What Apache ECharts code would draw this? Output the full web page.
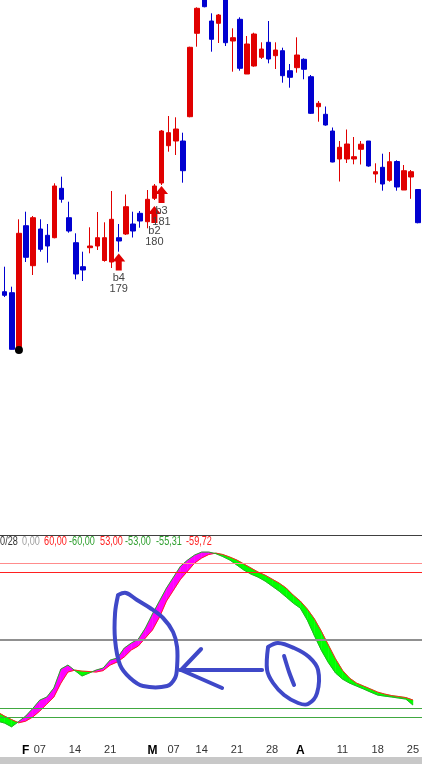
<!DOCTYPE html>
<html><head><meta charset="utf-8">
<script src="https://cdn.jsdelivr.net/npm/echarts@6/dist/echarts.min.js"></script>
<style>html,body{margin:0;padding:0;background:#fff;overflow:hidden;width:422px;height:764px;position:relative}#c{position:absolute;left:-6.07px;top:0;width:428.07px;height:764px}</style>
</head><body><div id="c"></div>
<script>
// ---- data ----
const dates = ['01-25','01-26','01-27','01-28','02-03','02-04','02-07','02-08','02-09','02-10','02-11','02-14','02-15','02-16','02-17','02-18','02-21','02-22','02-23','02-24','02-25','02-28','03-02','03-03','03-04','03-07','03-08','03-10','03-11','03-14','03-15','03-16','03-17','03-18','03-21','03-22','03-23','03-24','03-25','03-28','03-29','03-30','03-31','04-01','04-04','04-05','04-06','04-07','04-08','04-11','04-12','04-13','04-14','04-15','04-18','04-19','04-20','04-21','04-22','04-25'];
const openP  = [288,238.3,237.3,180,304.3,264.3,301,294.7,292.3,341.7,312.3,287.3,263.3,282.3,284,269.5,268,292.3,296,306,316.7,308.3,331.7,347,384.3,389,389,413.3,496.7,540,509,506.7,535,489,510.7,456,464,472.7,487.7,474.3,479.3,459.3,462.3,470.7,453.3,423.3,415.7,399,371,371,371,380.7,389,356,362.7,349.7,368.5,340,353,340.5];
const closeP = [278,234.7,180.7,296.7,272.7,312.3,280.7,284,344,330.7,299,256,260,284,292.3,292.3,310.7,289,323.3,299,309,330.7,344,399,397.3,401,359.3,482.7,521.7,523.3,490.7,515,487.3,492.3,461.7,486,496,481,471,480,454.3,452.7,475,460.7,416.7,426.7,405,368,382.7,386,373.3,385.8,364,358.3,346,368.3,343,359.3,358.3,307.3];
const lowP   = [272,233,180.5,180,268,255,278.3,267.3,291.7,327.3,297.3,250.7,249,276.7,280,268.3,262,278.3,295,292.5,302.3,301.7,330,345,378.3,375,347.3,412.7,483.3,522.7,478.3,487,484,458.3,459.3,456,463.3,471,466.7,461,447.3,442.3,457.3,450.7,416,408.3,404.3,367.7,348.5,367,365.7,365.5,363.3,347.3,339.3,348.3,339.3,340,331.2,306.7];
const highP  = [292,263.3,243.3,310.7,318.3,314,310.7,306,346.7,353.3,328.3,296.7,278.3,302.7,318,307.7,339,306,335.5,318.3,319,340,346,400,414,412.7,397.3,483.3,522.7,545,516.7,516,540,501.7,512.7,494,497.3,487.7,509,487.7,482.3,466,492.7,471.7,455,429,423.5,402.5,389,400.5,393,389,389,366.7,376.3,378,369.7,365,360,341];
const fastK = [-62.9,-64.4,-67.3,-63.2,-59.0,-53.1,-46.6,-44.2,-37.2,-22.5,-19.4,-23.7,-27.9,-25.6,-23.3,-21.7,-15.5,-14.0,-6.2,-2.3,0.8,9.3,20.2,30.3,40.4,48.9,57.4,62.1,66.0,68.3,68.3,67.1,64.8,62.1,58.2,54.3,51.2,48.9,45.8,41.9,38.0,33.4,28.7,24.8,15.5,3.5,-8.0,-17.5,-25.5,-30.3,-33.4,-35.7,-38.0,-40.4,-42.7,-43.5,-44.2,-45.0,-45.8,-50.4];
const slowD = [-55.9,-59.0,-61.7,-64.2,-62.9,-59.7,-55.1,-49.7,-44.2,-33.4,-24.8,-23.3,-24.1,-24.4,-24.8,-23.7,-19.4,-17.0,-13.1,-7.7,-4.6,1.6,7.8,17.8,30.3,38.8,47.3,53.5,59.8,63.7,66.4,67.5,66.4,64.4,62.1,59.0,55.9,52.8,50.4,47.3,44.2,40.4,34.9,30.3,24.1,16.5,6.8,-3.9,-14.5,-23.5,-29.5,-33.4,-35.7,-38.0,-40.4,-41.9,-43.1,-43.8,-44.6,-46.5];
const levels = [60, 53, 0, -53, -60];
const tickDates = ['02-03','02-07','02-14','02-21','02-28','03-02','03-07','03-14','03-21','03-28','04-01','04-04','04-11','04-18','04-25'];
const tickTexts = ['F','07','14','21','','M','07','14','21','28','A','','11','18','25'];
const sigDates = ['02-22','03-02','03-03'];
const sigNames = ['b4','b2','b3'];
const sigNums = ['179','180','181'];
const sigLevels = [276.5, 324, 344];
const lowMarkDate = '01-28';
const headerTexts = ['0/28','0,00','60,00','-60,00','53,00','-53,00','-55,31','-59,72'];

// ---- styles ----
const OX = 6.07; // the chart canvas starts 6.07px left of the window
const RED = '#e00000', BLUE = '#0000d0';
const levelColors = ['#ff8c8c', '#ff2020', '#909090', '#40a840', '#40a840'];
const levelWidths = [1, 1, 2, 1, 1];
const headerColors = ['#333', '#a0a0a0', '#ff2020', '#30a030', '#ff2020', '#30a030', '#30a030', '#ff2020'];
const headerX = [0, 22, 44, 69, 100, 125, 156, 186];
const FONT = "'Liberation Sans',Arial,sans-serif";
const ANN = '#3f48c8';

const tickMap = new Map(tickDates.map((d, i) => [d, tickTexts[i]]));
const chart = echarts.init(document.getElementById('c'), null, {renderer: 'canvas'});

function bandItem(params, api) {
  const i = api.value(0);
  const a0 = api.coord([i - 1, fastK[i - 1]]), a1 = api.coord([i, fastK[i]]);
  const b0 = api.coord([i - 1, slowD[i - 1]]), b1 = api.coord([i, slowD[i]]);
  const d0 = fastK[i - 1] - slowD[i - 1], d1 = fastK[i] - slowD[i];
  const col = d => d >= 0 ? '#ff00ff' : '#00ff00';
  const poly = (pts, c) => ({type: 'polygon', shape: {points: pts}, style: {fill: c, stroke: c, lineWidth: 0.5}});
  if (d0 * d1 < 0) {
    const t = d0 / (d0 - d1);
    const p = [a0[0] + (a1[0] - a0[0]) * t, a0[1] + (a1[1] - a0[1]) * t];
    return {type: 'group', children: [poly([a0, p, b0], col(d0)), poly([p, a1, b1], col(d1))]};
  }
  return poly([a0, a1, b1, b0], col(d0 + d1));
}
function levelItem(params, api) {
  const cs = params.coordSys;
  const k = api.value(2);
  const y = api.coord([0, api.value(1)])[1];
  const yy = levelWidths[k] % 2 ? Math.round(y) + 0.5 : Math.round(y);
  return {type: 'line', shape: {x1: 0, y1: yy, x2: cs.x + cs.width + 20, y2: yy}, style: {stroke: levelColors[k], lineWidth: levelWidths[k]}};
}

const graphics = [
  {type: 'line', shape: {x1: 0, y1: 535.5, x2: 440, y2: 535.5}, style: {stroke: '#404040', lineWidth: 1}, silent: true},
  {type: 'rect', shape: {x: 0, y: 757, width: 440, height: 7}, style: {fill: '#c8c8c8'}, silent: true}
];
headerTexts.forEach((t, k) => graphics.push({type: 'text', x: headerX[k] + OX, y: 541, scaleX: 0.7, style: {text: t, fill: headerColors[k], font: '13px ' + FONT, textVerticalAlign: 'middle'}, silent: true}));
// hand-drawn annotations (pixel overlay)
const annStyle = {stroke: ANN, lineWidth: 4, lineCap: 'round', lineJoin: 'round', fill: null};
const sh = pts => pts.map(p => [p[0] + OX, p[1]]);
graphics.push({type: 'polyline', shape: {smooth: 0.35, points: sh([[118,595],[126,593],[137,600],[150,608],[163,618],[173,632],[177,647],[177,667],[175,678],[167,686],[143,686],[130,678],[120,665],[115,640],[115,613],[118,595]])}, style: annStyle, silent: true, z: 100});
graphics.push({type: 'polyline', shape: {points: sh([[262,670],[180,670]])}, style: annStyle, silent: true, z: 100});
graphics.push({type: 'polyline', shape: {points: sh([[201,649],[181,670],[222,688]])}, style: annStyle, silent: true, z: 100});
graphics.push({type: 'polyline', shape: {smooth: 0.35, points: sh([[268,647],[278,643],[294,648],[309,657],[318,670],[317,693],[308,704],[298,703],[284,695],[273,683],[267,670],[268,647]])}, style: annStyle, silent: true, z: 100});
graphics.push({type: 'polyline', shape: {smooth: 0.3, points: sh([[284,656],[289,672],[294,685]])}, style: annStyle, silent: true, z: 100});

chart.setOption({
  animation: false,
  backgroundColor: '#fff',
  grid: [
    {left: 0, right: 0.27, top: 0, height: 530},
    {left: 0, right: 0.27, top: 535.7, height: 203.6}
  ],
  xAxis: [
    {type: 'category', gridIndex: 0, data: dates, boundaryGap: true, show: false},
    {type: 'category', gridIndex: 1, data: dates, boundaryGap: true,
      axisLine: {lineStyle: {color: '#808080', width: 1}},
      axisTick: {alignWithLabel: true, interval: (i, v) => tickMap.has(v), length: 4, lineStyle: {color: '#444'}},
      axisLabel: {interval: (i, v) => tickMap.has(v) && tickMap.get(v) !== '',
        formatter: v => { const t = tickMap.get(v) || ''; return /[A-Z]/.test(t) ? '{b|' + t + '}' : t; },
        color: '#333', fontSize: 11, fontFamily: FONT, margin: 5,
        rich: {b: {fontWeight: 'bold', color: '#000', fontSize: 12, fontFamily: FONT}}},
      splitLine: {show: false}}
  ],
  yAxis: [
    {type: 'value', gridIndex: 0, min: 0, max: 530, show: false, splitLine: {show: false}},
    {type: 'value', gridIndex: 1, min: -77, max: 81, show: false, splitLine: {show: false}}
  ],
  graphic: graphics,
  series: [
    {type: 'candlestick', xAxisIndex: 0, yAxisIndex: 0, barWidth: 5, clip: true,
      data: dates.map((d, i) => [openP[i], closeP[i], lowP[i], highP[i]]),
      itemStyle: {color: RED, color0: BLUE, borderColor: RED, borderColor0: BLUE, borderWidth: 1}},
    {type: 'scatter', xAxisIndex: 0, yAxisIndex: 0, z: 5,
      data: sigDates.map((d, k) => [d, sigLevels[k]]),
      symbol: 'path://M6.5,0 L13,8 L9.5,8 L9.5,17 L3.5,17 L3.5,8 L0,8 Z', symbolSize: [13, 17], symbolOffset: [0, 8.5],
      itemStyle: {color: RED, opacity: 1},
      label: {show: true, position: 'bottom', distance: 2, formatter: p => sigNames[p.dataIndex] + '\n' + sigNums[p.dataIndex],
        color: '#444', fontSize: 11, lineHeight: 11, fontFamily: FONT}},
    {type: 'scatter', xAxisIndex: 0, yAxisIndex: 0, z: 6,
      data: [[lowMarkDate, lowP[dates.indexOf(lowMarkDate)]]], symbol: 'circle', symbolSize: 8, itemStyle: {color: '#000', opacity: 1}},
    {type: 'custom', xAxisIndex: 1, yAxisIndex: 1, z: 2, clip: true,
      data: dates.slice(1).map((d, k) => [k + 1, fastK[k + 1]]), encode: {x: 0, y: 1}, renderItem: bandItem},
    {type: 'line', xAxisIndex: 1, yAxisIndex: 1, z: 3, data: slowD, symbol: 'none', lineStyle: {color: '#ff2020', width: 1}},
    {type: 'line', xAxisIndex: 1, yAxisIndex: 1, z: 3, data: fastK, symbol: 'none', lineStyle: {color: '#20b020', width: 1}},
    {type: 'custom', xAxisIndex: 1, yAxisIndex: 1, z: 4, clip: false,
      data: levels.map((v, k) => [0, v, k]), encode: {x: 0, y: 1}, renderItem: levelItem}
  ]
});
</script>
</body></html>
